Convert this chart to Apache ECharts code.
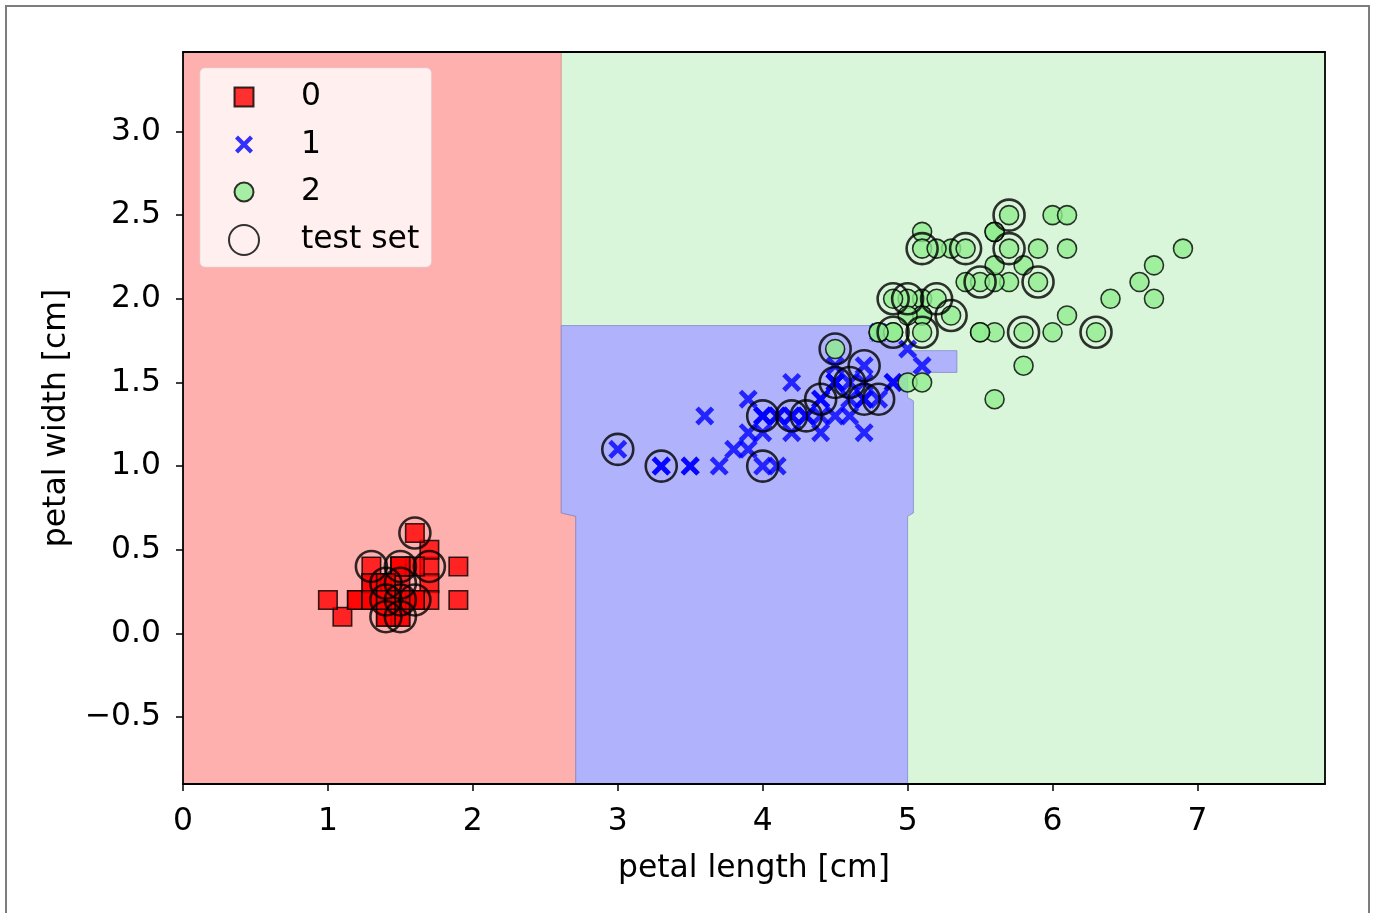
<!DOCTYPE html>
<html><head><meta charset="utf-8">
<script src="https://cdn.jsdelivr.net/npm/echarts@6/dist/echarts.min.js"></script>
<style>html,body{margin:0;padding:0;background:#fff}#c{width:1374px;height:913px}</style>
</head><body><div id="c"></div>
<script>
// ---------- data ----------
const xTicks = [0, 1, 2, 3, 4, 5, 6, 7];
const yTicks = [-0.5, 0, 0.5, 1, 1.5, 2, 2.5, 3];
const xRange = [0, 7.88];
const yRange = [-0.9, 3.475];
const xLabel = 'petal length [cm]';
const yLabel = 'petal width [cm]';
const legendNames = ['0', '1', '2', 'test set'];

const class0 = [[1.4,0.2],[1.4,0.2],[1.3,0.2],[1.5,0.2],[1.4,0.2],[1.7,0.4],[1.4,0.3],[1.5,0.2],[1.4,0.2],[1.5,0.1],
  [1.5,0.2],[1.6,0.2],[1.4,0.1],[1.1,0.1],[1.2,0.2],[1.5,0.4],[1.3,0.4],[1.4,0.3],[1.7,0.3],[1.5,0.3],
  [1.7,0.2],[1.5,0.4],[1.0,0.2],[1.7,0.5],[1.9,0.2],[1.6,0.2],[1.6,0.4],[1.5,0.2],[1.4,0.2],[1.6,0.2],
  [1.6,0.2],[1.5,0.4],[1.5,0.1],[1.4,0.2],[1.5,0.2],[1.2,0.2],[1.3,0.2],[1.4,0.1],[1.3,0.2],[1.5,0.2],
  [1.3,0.3],[1.3,0.3],[1.3,0.2],[1.6,0.6],[1.9,0.4],[1.4,0.3],[1.6,0.2],[1.4,0.2],[1.5,0.2],[1.4,0.2]];
const class1 = [[4.7,1.4],[4.5,1.5],[4.9,1.5],[4.0,1.3],[4.6,1.5],[4.5,1.3],[4.7,1.6],[3.3,1.0],[4.6,1.3],[3.9,1.4],
  [3.5,1.0],[4.2,1.5],[4.0,1.0],[4.7,1.4],[3.6,1.3],[4.4,1.4],[4.5,1.5],[4.1,1.0],[4.5,1.5],[3.9,1.1],
  [4.8,1.8],[4.0,1.3],[4.9,1.5],[4.7,1.2],[4.3,1.3],[4.4,1.4],[4.8,1.4],[5.0,1.7],[4.5,1.5],[3.5,1.0],
  [3.8,1.1],[3.7,1.0],[3.9,1.2],[5.1,1.6],[4.5,1.5],[4.5,1.6],[4.7,1.5],[4.4,1.3],[4.1,1.3],[4.0,1.3],
  [4.4,1.2],[4.6,1.4],[4.0,1.2],[3.3,1.0],[4.2,1.3],[4.2,1.2],[4.2,1.3],[4.3,1.3],[3.0,1.1],[4.1,1.3]];
const class2 = [[6.0,2.5],[5.1,1.9],[5.9,2.1],[5.6,1.8],[5.8,2.2],[6.6,2.1],[4.5,1.7],[6.3,1.8],[5.8,1.8],[6.1,2.5],
  [5.1,2.0],[5.3,1.9],[5.5,2.1],[5.0,2.0],[5.1,2.4],[5.3,2.3],[5.5,1.8],[6.7,2.2],[6.9,2.3],[5.0,1.5],
  [5.7,2.3],[4.9,2.0],[6.7,2.0],[4.9,1.8],[5.7,2.1],[6.0,1.8],[4.8,1.8],[4.9,1.8],[5.6,2.1],[5.8,1.6],
  [6.1,1.9],[6.4,2.0],[5.6,2.2],[5.1,1.5],[5.6,1.4],[6.1,2.3],[5.6,2.4],[5.5,1.8],[4.8,1.8],[5.4,2.1],
  [5.6,2.4],[5.1,2.3],[5.1,1.9],[5.9,2.3],[5.7,2.5],[5.2,2.3],[5.0,1.9],[5.2,2.0],[5.4,2.3],[5.1,1.8]];
const testSet = [[1.3,0.4],[1.5,0.4],[1.7,0.4],[1.6,0.6],[1.4,0.3],[1.5,0.3],[1.4,0.2],[1.5,0.2],[1.6,0.2],[1.4,0.1],[1.5,0.1],
  [3.0,1.1],[3.3,1.0],[4.0,1.0],[4.0,1.3],[4.2,1.3],[4.3,1.3],[4.4,1.4],[4.5,1.5],[4.6,1.5],[4.7,1.6],[4.7,1.4],[4.8,1.4],
  [4.5,1.7],[4.9,2.0],[5.0,2.0],[5.2,2.0],[5.3,1.9],[4.9,1.8],[5.1,1.8],[5.8,1.8],[6.3,1.8],[5.5,2.1],[5.9,2.1],[5.1,2.3],[5.4,2.3],[5.7,2.3],[5.7,2.5]];

// decision regions (polygon vertices in data units)
const regionGreen = [[0,-0.9],[7.88,-0.9],[7.88,3.475],[0,3.475]];
const regionRed = [[0,-0.9],[2.71,-0.9],[2.71,0.70],[2.61,0.72],[2.61,3.475],[0,3.475]];
const regionBlue = [[2.71,-0.9],[5.0,-0.9],[5.0,0.70],[5.04,0.72],[5.04,1.39],[5.0,1.41],[5.0,1.56],[5.34,1.56],[5.34,1.69],
  [4.97,1.69],[4.97,1.745],[4.74,1.745],[4.74,1.84],[2.61,1.84],[2.61,0.72],[2.71,0.70]];

// ---------- chart ----------
const FONT = 'DejaVu Sans';
const FS = 31.4;
const X_PATH = 'path://M0,1.8L1.8,0L5,3.2L8.2,0L10,1.8L6.8,5L10,8.2L8.2,10L5,6.8L1.8,10L0,8.2L3.2,5Z';
const LEG_SQ = 'path://M0,0M30,30M5.5,5.5L24.5,5.5L24.5,24.5L5.5,24.5Z';
const LEG_X = 'path://M0,0M30,30M6,9L9,6L15,12L21,6L24,9L18,15L24,21L21,24L15,18L9,24L6,21L12,15Z';
const LEG_CI = 'path://M0,0M30,30M5.5,15A9.5,9.5,0,1,1,24.5,15A9.5,9.5,0,1,1,5.5,15Z';

function region(poly, fill, stroke) {
  return {
    type: 'custom', silent: true, z: 1, clip: true,
    data: [[poly[0][0], poly[0][1]]],
    renderItem: (p, api) => ({
      type: 'polygon',
      shape: { points: poly.map(v => api.coord(v)) },
      style: { fill: fill, stroke: stroke, lineWidth: 1 }
    })
  };
}
const fmtY = v => (v < 0 ? '\u2212' : '') + Math.abs(v).toFixed(1);

const chart = echarts.init(document.getElementById('c'), null, { renderer: 'canvas' });
chart.setOption({
  animation: false,
  backgroundColor: '#ffffff',
  textStyle: { fontFamily: FONT },
  graphic: [{
    type: 'rect', silent: true,
    shape: { x: 6, y: 6, width: 1363, height: 930 },
    style: { fill: 'rgba(0,0,0,0)', stroke: '#7d7d7d', lineWidth: 2 }
  }],
  grid: { left: 183, top: 52, right: 49, bottom: 129, containLabel: false },
  xAxis: [{
    type: 'value', min: xRange[0], max: xRange[1], z: 10,
    name: xLabel, nameLocation: 'middle', nameGap: 69,
    nameTextStyle: { fontFamily: FONT, fontSize: FS, color: '#000' },
    axisLine: { show: true, onZero: false, lineStyle: { color: '#000', width: 1.8 } },
    axisTick: { show: true, inside: false, length: 7, customValues: xTicks, lineStyle: { color: '#000', width: 1.5 } },
    axisLabel: { customValues: xTicks, margin: 22, fontFamily: FONT, fontSize: FS, color: '#000', formatter: v => String(v) },
    splitLine: { show: false }
  }, {
    type: 'value', position: 'top', min: xRange[0], max: xRange[1], z: 10,
    axisLine: { show: true, onZero: false, lineStyle: { color: '#000', width: 1.8 } },
    axisTick: { show: false }, axisLabel: { show: false }, splitLine: { show: false }
  }],
  yAxis: [{
    type: 'value', min: yRange[0], max: yRange[1], z: 10,
    name: yLabel, nameLocation: 'middle', nameGap: 111, nameRotate: 90,
    nameTextStyle: { fontFamily: FONT, fontSize: FS, color: '#000' },
    axisLine: { show: true, onZero: false, lineStyle: { color: '#000', width: 1.8 } },
    axisTick: { show: true, inside: false, length: 7, customValues: yTicks, lineStyle: { color: '#000', width: 1.5 } },
    axisLabel: { customValues: yTicks, margin: 22, fontFamily: FONT, fontSize: FS, color: '#000', formatter: fmtY },
    splitLine: { show: false }
  }, {
    type: 'value', position: 'right', min: yRange[0], max: yRange[1], z: 10,
    axisLine: { show: true, onZero: false, lineStyle: { color: '#000', width: 1.8 } },
    axisTick: { show: false }, axisLabel: { show: false }, splitLine: { show: false }
  }],
  legend: {
    orient: 'vertical', left: 200, top: 68,
    padding: [13, 12, 11, 28], itemGap: 16, itemWidth: 30, itemHeight: 30,
    backgroundColor: 'rgba(255,255,255,0.8)', borderColor: 'rgba(220,220,220,0.6)', borderWidth: 1, borderRadius: 5,
    selectedMode: false,
    textStyle: { fontFamily: FONT, fontSize: FS, lineHeight: 30, color: '#000', padding: [0, 0, 0, 37] },
    data: [
      { name: legendNames[0], icon: LEG_SQ },
      { name: legendNames[1], icon: LEG_X },
      { name: legendNames[2], icon: LEG_CI },
      { name: legendNames[3], icon: 'circle' }
    ]
  },
  series: [
    region(regionGreen, '#daf6da', 'rgba(0,0,0,0)'),
    region(regionRed, '#fdb0ae', 'rgba(200,120,120,0.6)'),
    region(regionBlue, '#b0b3fb', 'rgba(120,130,200,0.7)'),
    { name: legendNames[0], type: 'scatter', z: 3, data: class0, symbol: 'rect', symbolSize: 18.5,
      itemStyle: { color: '#ff0000', borderColor: '#000', borderWidth: 1.6, opacity: 0.8 }, emphasis: { disabled: true }, silent: true },
    { name: legendNames[1], type: 'scatter', z: 3, data: class1, symbol: X_PATH, symbolSize: 19,
      itemStyle: { color: '#0000ff', opacity: 0.8 }, emphasis: { disabled: true }, silent: true },
    { name: legendNames[2], type: 'scatter', z: 3, data: class2, symbol: 'circle', symbolSize: 19,
      itemStyle: { color: '#90ee90', borderColor: '#000', borderWidth: 1.6, opacity: 0.8 }, emphasis: { disabled: true }, silent: true },
    { name: legendNames[3], type: 'scatter', z: 4, data: testSet, symbol: 'circle', symbolSize: 31,
      itemStyle: { color: 'rgba(0,0,0,0)', borderColor: '#000', borderWidth: 2.6 }, emphasis: { disabled: true }, silent: true }
  ]
});
</script>
</body></html>
